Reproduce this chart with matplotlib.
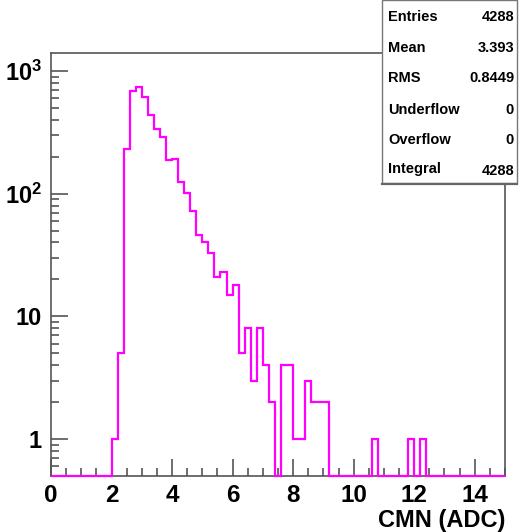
import numpy as np
import matplotlib
matplotlib.use("Agg")
import matplotlib.pyplot as plt
from matplotlib.ticker import MultipleLocator, LogLocator, FixedLocator, FixedFormatter, NullFormatter
from matplotlib.patches import Rectangle

plt.rcParams['font.family'] = ['Liberation Sans', 'DejaVu Sans']
plt.rcParams['font.weight'] = 'bold'
plt.rcParams['mathtext.fontset'] = 'custom'
plt.rcParams['mathtext.rm'] = 'Liberation Sans:bold'
plt.rcParams['mathtext.bf'] = 'Liberation Sans:bold'

# histogram: 75 bins of 0.2 from 0 to 15
x_lo, x_hi, n_bins = 0.0, 15.0, 75
counts = [0, 0, 0, 0, 0, 0, 0, 0, 0, 0,          # 0.0 - 2.0
          1, 5, 233, 686, 739, 613, 435, 339, 290, 187,   # 2.0 - 4.0
          191, 125, 102, 72, 46, 40, 33, 21, 23, 15,      # 4.0 - 6.0
          18, 5, 8, 3, 8, 4, 2, 0, 4, 4,                  # 6.0 - 8.0
          1, 1, 3, 2, 2, 2, 0, 0, 0, 0,                   # 8.0 - 10.0
          0, 0, 0, 1, 0, 0, 0, 0, 0, 1,                   # 10.0 - 12.0
          0, 1, 0, 0, 0, 0, 0, 0, 0, 0,                   # 12.0 - 14.0
          0, 0, 0, 0, 0]                                  # 14.0 - 15.0

stat_names = ["Entries", "Mean", "RMS", "Underflow", "Overflow", "Integral"]
stat_values = ["4288", "3.393", "0.8449", "0", "0", "4288"]

y_lo, y_hi = 0.5, 1400

W, H = 519, 532
fig = plt.figure(figsize=(W / 100, H / 100), dpi=100)
ax = fig.add_axes([51 / W, 1 - 476 / H, (505 - 51) / W, (476 - 53) / H])

edges = np.linspace(x_lo, x_hi, n_bins + 1)
shown = np.clip(np.array(counts, dtype=float), y_lo, None)
ax.stairs(shown, edges, baseline=None, color='#ff00ff', lw=1.6, clip_on=False, zorder=3)

ax.set_yscale('log')
ax.set_xlim(x_lo, x_hi)
ax.set_ylim(y_lo, y_hi)

frame_col = '#555555'
for s in ax.spines.values():
    s.set_color(frame_col)
    s.set_linewidth(1.2)

ax.xaxis.set_major_locator(MultipleLocator(2))
ax.xaxis.set_minor_locator(MultipleLocator(0.5))
ax.yaxis.set_major_locator(FixedLocator([1, 10, 100, 1000]))
ax.yaxis.set_major_formatter(FixedFormatter(['1', '10', r'$\mathbf{10^{2}}$', r'$\mathbf{10^{3}}$']))
ax.yaxis.set_minor_locator(LogLocator(base=10, subs=np.arange(2, 10)))
ax.yaxis.set_minor_formatter(NullFormatter())

ax.tick_params(which='both', direction='in', color=frame_col, width=1.2,
               top=False, right=False)
ax.tick_params(which='major', length=12)
ax.tick_params(which='minor', length=6)
ax.tick_params(axis='x', pad=6, labelsize=17.5)
ax.tick_params(axis='y', pad=6.5, labelsize=17)
for lab in ax.get_xticklabels() + ax.get_yticklabels():
    lab.set_fontweight('bold')

fig.text(505 / W, 1 - 527 / H, "CMN (ADC)", ha='right', va='baseline',
         fontsize=17, fontweight='bold')

# stats box
box = Rectangle((382 / W, 1 - 183 / H), (517 - 382) / W, 183 / H,
                transform=fig.transFigure, facecolor='white', edgecolor='#777777',
                lw=1.0, zorder=5)
fig.patches.append(box)
fig.add_artist(plt.Line2D([382 / W, 517 / W], [1 - 184 / H, 1 - 184 / H],
                          transform=fig.transFigure, color='#666666', lw=1.6, zorder=6))
row_y = [17, 48, 78, 110, 140, 169]
for name, val, yy in zip(stat_names, stat_values, row_y):
    fig.text(388 / W, 1 - yy / H, name, ha='left', va='center', fontsize=10.5,
             fontweight='bold', zorder=7)
    fig.text(514 / W, 1 - (yy + (2 if name == "Integral" else 0)) / H, val,
             ha='right', va='center', fontsize=10.5, fontweight='bold', zorder=7)

fig.savefig("out.png", dpi=100)
